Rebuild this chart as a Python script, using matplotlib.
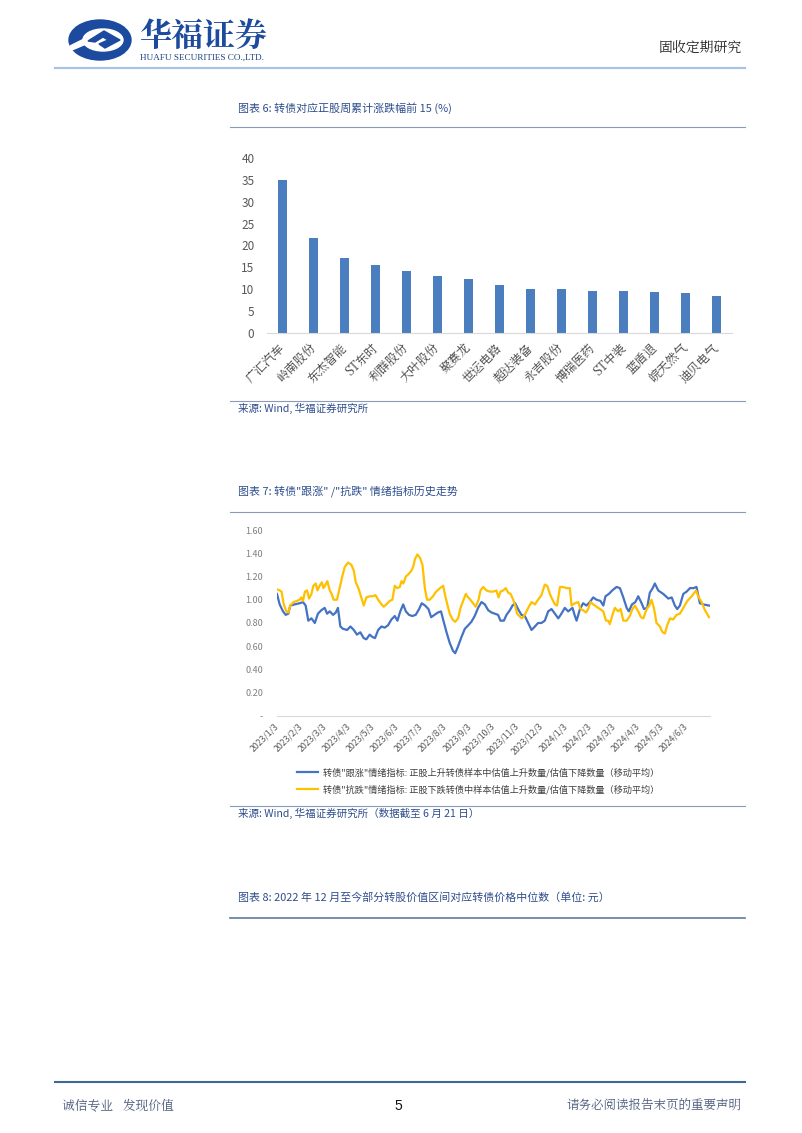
import matplotlib
matplotlib.use('Agg')
import matplotlib.pyplot as plt
from matplotlib.patches import Ellipse, Polygon
from matplotlib.lines import Line2D

plt.rcParams['font.family'] = ['Noto Sans CJK SC', 'DejaVu Sans']

# ---------------- data ----------------
bar_names = ['广汇汽车', '岭南股份', '东杰智能', 'ST东时', '利群股份', '大叶股份', '聚赛龙',
             '世运电路', '超达装备', '永吉股份', '博瑞医药', 'ST中装', '蓝盾退', '皖天然气', '迪贝电气']
bar_values = [35.0, 21.8, 17.2, 15.5, 14.2, 13.0, 12.3, 10.9, 10.0, 10.0, 9.5, 9.5, 9.45, 9.2, 8.5]
bar_yticks = [0, 5, 10, 15, 20, 25, 30, 35, 40]

date_labels = ['2023/1/3', '2023/2/3', '2023/3/3', '2023/4/3', '2023/5/3', '2023/6/3',
               '2023/7/3', '2023/8/3', '2023/9/3', '2023/10/3', '2023/11/3', '2023/12/3',
               '2024/1/3', '2024/2/3', '2024/3/3', '2024/4/3', '2024/5/3', '2024/6/3']
line_yticks = [0, 0.2, 0.4, 0.6, 0.8, 1.0, 1.2, 1.4, 1.6]
line_ytick_labels = ['-', '0.20', '0.40', '0.60', '0.80', '1.00', '1.20', '1.40', '1.60']

# months elapsed since 2023/1/3
blue_t = [0.00, 0.11, 0.25, 0.36, 0.47, 0.55, 0.73, 0.94, 1.08, 1.19, 1.30, 1.43, 1.57, 1.70, 1.84,
          1.98, 2.08, 2.19, 2.33, 2.44, 2.53, 2.63, 2.74, 2.91, 3.05, 3.19, 3.32, 3.46, 3.60, 3.71,
          3.85, 3.96, 4.07, 4.20, 4.34, 4.47, 4.61, 4.75, 4.89, 5.00, 5.12, 5.24, 5.35, 5.48, 5.62,
          5.76, 5.90, 6.01, 6.15, 6.29, 6.40, 6.54, 6.68, 6.81, 6.91, 7.04, 7.17, 7.31, 7.40, 7.52,
          7.66, 7.80, 7.94, 8.07, 8.21, 8.35, 8.49, 8.63, 8.77, 8.91, 9.04, 9.18, 9.28, 9.42, 9.53,
          9.67, 9.78, 9.89, 10.01, 10.15, 10.29, 10.43, 10.57, 10.71, 10.84, 10.98, 11.12, 11.26,
          11.40, 11.54, 11.68, 11.81, 11.95, 12.09, 12.27, 12.37, 12.44, 12.58, 12.71, 12.85, 12.99,
          13.13, 13.27, 13.43, 13.55, 13.64, 13.78, 13.92, 14.10, 14.24, 14.38, 14.52, 14.61, 14.74,
          14.88, 15.00, 15.14, 15.24, 15.37, 15.48, 15.60, 15.69, 15.83, 16.04, 16.25, 16.39, 16.52,
          16.62, 16.73, 16.87, 17.01, 17.15, 17.29, 17.42, 17.56, 17.70, 17.94]
blue_v = [1.05, 0.96, 0.90, 0.87, 0.88, 0.95, 0.96, 0.97, 0.98, 0.95, 0.82, 0.84, 0.80, 0.88, 0.91,
          0.93, 0.88, 0.90, 0.87, 0.89, 0.93, 0.77, 0.75, 0.74, 0.77, 0.74, 0.70, 0.72, 0.67, 0.66,
          0.70, 0.68, 0.67, 0.74, 0.77, 0.76, 0.78, 0.83, 0.86, 0.82, 0.90, 0.96, 0.90, 0.87, 0.86,
          0.87, 0.92, 0.97, 0.95, 0.92, 0.85, 0.87, 0.89, 0.90, 0.82, 0.72, 0.63, 0.56, 0.54, 0.60,
          0.68, 0.75, 0.78, 0.81, 0.86, 0.93, 0.98, 0.96, 0.91, 0.89, 0.88, 0.87, 0.82, 0.82, 0.87,
          0.91, 0.95, 0.97, 0.92, 0.87, 0.86, 0.80, 0.74, 0.77, 0.80, 0.80, 0.82, 0.90,
          0.92, 0.88, 0.84, 0.88, 0.93, 0.90, 0.93, 0.86, 0.82, 0.92, 0.97, 0.95, 0.98,
          1.02, 1.00, 0.99, 0.95, 1.03, 1.05, 1.08, 1.11, 1.10, 1.02, 0.93, 0.90, 0.96,
          0.98, 1.03, 0.97, 0.92, 0.93, 1.06, 1.10, 1.14, 1.08, 1.05, 1.01, 1.02, 0.95,
          0.92, 0.95, 1.05, 1.07, 1.10, 1.10, 1.11, 0.97, 0.96, 0.95]

yellow_t = [0.00, 0.11, 0.19, 0.28, 0.39, 0.47, 0.55, 0.69, 0.83, 0.94, 1.01, 1.08, 1.16, 1.25, 1.33,
            1.43, 1.51, 1.61, 1.68, 1.77, 1.86, 1.93, 1.99, 2.09, 2.19, 2.27, 2.35, 2.49, 2.60, 2.71,
            2.81, 2.95, 3.09, 3.19, 3.27, 3.38, 3.50, 3.60, 3.71, 3.85, 3.99, 4.09, 4.20, 4.34, 4.43,
            4.54, 4.68, 4.79, 4.89, 4.99, 5.10, 5.17, 5.25, 5.35, 5.46, 5.58, 5.65, 5.73, 5.83, 5.94,
            6.04, 6.14, 6.23, 6.34, 6.48, 6.57, 6.66, 6.77, 6.90, 6.97, 7.06, 7.17, 7.29, 7.40, 7.52,
            7.62, 7.73, 7.84, 7.94, 8.03, 8.14, 8.25, 8.37, 8.45, 8.56, 8.70, 8.84, 8.98, 9.11, 9.20,
            9.28, 9.39, 9.50, 9.60, 9.70, 9.81, 9.90, 9.97, 10.06, 10.17, 10.29, 10.43, 10.57, 10.71,
            10.84, 10.98, 11.12, 11.22, 11.33, 11.44, 11.54, 11.63, 11.75, 11.88, 12.02, 12.16, 12.23,
            12.37, 12.51, 12.60, 12.71, 12.83, 12.92, 13.02, 13.13, 13.27, 13.41, 13.55, 13.66, 13.75,
            13.82, 13.93, 14.03, 14.17, 14.27, 14.38, 14.52, 14.65, 14.76, 14.86, 15.00, 15.11, 15.21,
            15.35, 15.46, 15.55, 15.65, 15.76, 15.90, 16.01, 16.11, 16.20, 16.32, 16.45, 16.59, 16.73,
            16.87, 17.04, 17.22, 17.40, 17.49, 17.63, 17.77, 17.94]
yellow_v = [1.09, 1.08, 1.07, 0.96, 0.90, 0.89, 0.95, 0.98, 0.99, 1.00, 1.02, 0.99, 1.07, 1.08, 1.01,
            1.05, 1.12, 1.14, 1.08, 1.12, 1.15, 1.10, 1.12, 1.16, 1.08, 1.05, 1.00, 1.00, 1.10, 1.20,
            1.28, 1.32, 1.30, 1.25, 1.15, 1.10, 1.02, 0.95, 1.02, 1.03, 1.03, 1.04, 1.00, 0.96, 0.94,
            0.96, 0.99, 1.00, 1.12, 1.10, 1.11, 1.16, 1.14, 1.20, 1.22, 1.25, 1.28, 1.35, 1.39, 1.36,
            1.30, 1.10, 1.00, 1.00, 1.03, 1.06, 1.08, 1.10, 1.12, 1.05, 0.97, 0.88, 0.83, 0.81, 0.84,
            0.93, 0.99, 1.05, 1.02, 1.00, 0.97, 0.94, 1.00, 1.08, 1.11, 1.08, 1.07, 1.07, 1.08, 1.02,
            1.07, 1.08, 1.10, 1.06, 1.05, 1.00, 0.94, 0.88, 0.86, 0.84, 0.87, 0.93, 0.98, 0.96,
            1.00, 1.04, 1.13, 1.12, 1.05, 1.00, 0.96, 0.95, 1.11, 1.11, 1.10, 1.10, 0.95,
            0.97, 0.98, 0.92, 0.91, 0.89, 0.92, 0.98, 0.96, 0.94, 0.92, 0.90, 0.82, 0.82,
            0.79, 0.87, 0.93, 0.90, 0.92, 0.82, 0.82, 0.86, 0.92, 0.95, 0.90, 0.85, 0.84,
            0.92, 0.95, 1.00, 0.93, 0.80, 0.77, 0.72, 0.71, 0.78, 0.84, 0.83, 0.87, 0.88,
            0.93, 0.99, 1.03, 1.08, 1.03, 0.98, 0.91, 0.85]

legend_labels = ['转债"跟涨"情绪指标: 正股上升转债样本中估值上升数量/估值下降数量（移动平均）',
                 '转债"抗跌"情绪指标: 正股下跌转债中样本估值上升数量/估值下降数量（移动平均）']

# ---------------- figure ----------------
W, H = 802, 1133
fig = plt.figure(figsize=(W / 100, H / 100), dpi=100)
fig.patch.set_facecolor('white')

page = fig.add_axes([0, 0, 1, 1])
page.set_xlim(0, W)
page.set_ylim(H, 0)
page.axis('off')
page.set_zorder(0)


def ax_rect(x0, y0, x1, y1):
    return [x0 / W, 1 - y1 / H, (x1 - x0) / W, (y1 - y0) / H]


title_c = '#2E4D8C'
sep_c = '#8A9BB8'
serif = ['Noto Serif CJK SC', 'Noto Sans CJK SC', 'DejaVu Sans']

# header
page.add_patch(Ellipse((100, 40), 62, 40, color='#1B4A9E', zorder=2))
page.add_patch(Ellipse((103, 40), 40, 22, color='white', zorder=3))
page.add_patch(Polygon([[88, 41], [104, 31], [120, 40], [105, 48], [99, 44], [108, 40], [103, 37], [95, 42]],
                       closed=True, color='#1B4A9E', zorder=4))
page.add_patch(Polygon([[70, 46], [84, 39], [86, 44], [72, 50]], closed=True, color='white', zorder=4))
page.text(139, 37, '华福证券', fontsize=23, fontweight='bold', color='#1B4A9E', va='center', ha='left',
          family=serif)
page.text(140, 58, 'HUAFU SECURITIES CO.,LTD.', fontsize=6.6, color='#1B3F80', va='center', ha='left',
          family=['Liberation Serif'])
page.text(742, 49, '固收定期研究', fontsize=10, color='#222222', va='center', ha='right', family=serif)
page.plot([55, 745], [68, 68], color='#A7C3E6', lw=1.6)

# chart 6 title
page.text(238, 108, '图表 6: 转债对应正股周累计涨跌幅前 15 (%)', fontsize=7.9, color=title_c,
          va='center', ha='left')
page.plot([230, 745], [127, 127], color=sep_c, lw=0.8)
page.plot([230, 745], [401, 401], color=sep_c, lw=0.8)
page.text(238, 408, '来源: Wind, 华福证券研究所', fontsize=7.6, color=title_c, va='center', ha='left')

# chart 7 title
page.text(238, 491, '图表 7: 转债"跟涨" /"抗跌" 情绪指标历史走势', fontsize=7.9, color=title_c,
          va='center', ha='left')
page.plot([230, 745], [512, 512], color=sep_c, lw=0.8)
page.plot([230, 745], [806, 806], color=sep_c, lw=0.8)
page.text(238, 813, '来源: Wind, 华福证券研究所（数据截至 6 月 21 日）', fontsize=7.6, color=title_c,
          va='center', ha='left')

# chart 8 title
page.text(238, 897, '图表 8: 2022 年 12 月至今部分转股价值区间对应转债价格中位数（单位: 元）', fontsize=7.9,
          color=title_c, va='center', ha='left')
page.plot([230, 745], [918, 918], color='#5E79A3', lw=1.2)

# footer
page.plot([55, 745], [1082, 1082], color='#3F679B', lw=1.5)
page.text(62, 1106, '诚信专业   发现价值', fontsize=9.2, color='#4A5A7A', va='center', ha='left', family=serif)
page.text(398, 1106, '5', fontsize=10, color='#111111', va='center', ha='center', family=['Liberation Sans'])
page.text(742, 1106, '请务必阅读报告末页的重要声明', fontsize=9.0, color='#4A5A7A', va='center', ha='right',
          family=serif)

# ---------------- bar chart ----------------
ax1 = fig.add_axes(ax_rect(267, 158, 732, 333))
ax1.patch.set_alpha(0)
xs = list(range(len(bar_names)))
ax1.bar(xs, bar_values, width=0.32, color='#4A7EBF')
ax1.set_xlim(-0.5, len(bar_names) - 0.5)
ax1.set_ylim(0, 40)
ax1.set_yticks(bar_yticks)
ax1.set_yticklabels([str(v) for v in bar_yticks])
ax1.set_xticks(xs)
ax1.set_xticklabels(bar_names, rotation=45, ha='right', va='center', rotation_mode='anchor', family=serif)
for s in ['top', 'right', 'left']:
    ax1.spines[s].set_visible(False)
ax1.spines['bottom'].set_color('#D9D9D9')
ax1.tick_params(axis='y', length=0, pad=9, labelsize=8.5, labelcolor='#595959')
ax1.tick_params(axis='x', length=0, pad=9, labelsize=8.8, labelcolor='#404040')

# ---------------- line chart ----------------
ax2 = fig.add_axes(ax_rect(277, 530, 710, 716))
ax2.patch.set_alpha(0)
l1, = ax2.plot(blue_t, blue_v, color='#4472C4', lw=1.6)
l2, = ax2.plot(yellow_t, yellow_v, color='#FFC000', lw=1.6)
ax2.set_xlim(0, 17.98)
ax2.set_ylim(0, 1.6)
ax2.set_yticks(line_yticks)
ax2.set_yticklabels(line_ytick_labels)
ax2.set_xticks(list(range(len(date_labels))))
ax2.set_xticklabels(date_labels, rotation=45, ha='right', va='center', rotation_mode='anchor')
for s in ['top', 'right', 'left']:
    ax2.spines[s].set_visible(False)
ax2.spines['bottom'].set_color('#D9D9D9')
ax2.tick_params(axis='y', length=0, pad=10, labelsize=6.5, labelcolor='#7F7F7F')
ax2.tick_params(axis='x', length=0, pad=6, labelsize=6.3, labelcolor='#595959')

fig.legend([l1, l2], legend_labels, loc='upper left', bbox_to_anchor=(297 / W, 1 - 768 / H),
           frameon=False, fontsize=6.6, handlelength=2.3, labelspacing=0.75, handletextpad=0.5,
           labelcolor='#404040', borderaxespad=0, borderpad=0)

fig.savefig('out.png', dpi=100)
